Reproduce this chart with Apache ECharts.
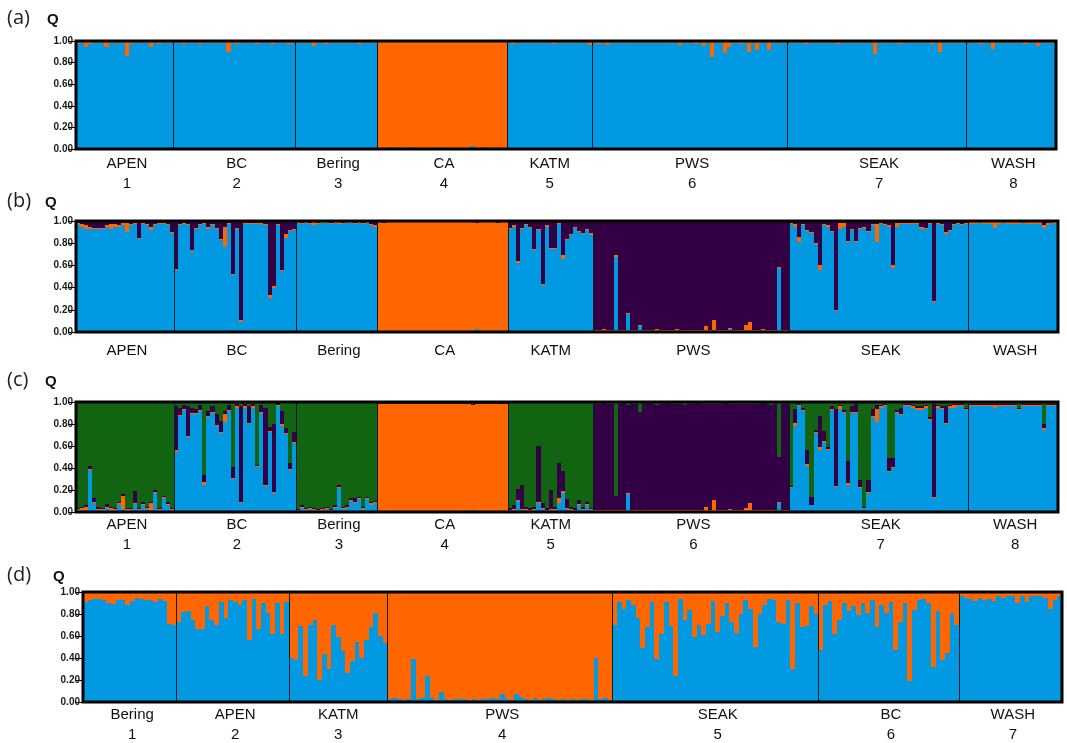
<!DOCTYPE html>
<html>
<head>
<meta charset="utf-8">
<script src="https://cdn.jsdelivr.net/npm/echarts@6/dist/echarts.min.js"></script>
<style>
html,body{margin:0;padding:0;background:#fff;}
#chart{width:1067px;height:743px;}
</style>
</head>
<body>
<div id="chart"></div>
<script>
// ---------------- DATA ----------------
// Population labels
const popsABC = ['APEN','BC','Bering','CA','KATM','PWS','SEAK','WASH'];
const numsABC = ['1','2','3','4','5','6','7','8'];
const popsD = ['Bering','APEN','KATM','PWS','SEAK','BC','WASH'];
const numsD = ['1','2','3','4','5','6','7'];
const yTicks = [0, 0.2, 0.4, 0.6, 0.8, 1.0];

// Panel (a): K=2, orange share per individual (blue = remainder)
const aOrange = [
  [0.03,0.02,0.06,0.03,0.02,0.02,0.02,0.06,0.02,0.02,0.02,0.02,0.14,0.03,0.02,0.02,0.02,0.02,0.06,0.02,0.03,0.02,0.02,0.02],
  [0.02,0.02,0.03,0.02,0.02,0.02,0.03,0.02,0.02,0.02,0.02,0.02,0.02,0.10,0.02,0.03,0.02,0.02,0.02,0.02,0.03,0.02,0.02,0.02,0.03,0.02,0.02,0.02,0.03,0.02],
  [0.02,0.02,0.02,0.02,0.05,0.02,0.02,0.03,0.02,0.02,0.02,0.02,0.02,0.02,0.02,0.03,0.02,0.02,0.02,0.02],
  [0.99,0.99,0.99,0.98,0.99,0.99,0.99,0.99,0.98,0.99,0.99,0.99,0.99,0.99,0.99,0.98,0.99,0.99,0.99,0.99,0.99,0.99,0.99,0.97,0.99,0.99,0.98,0.99,0.99,0.99,0.99,0.99],
  [0.02,0.03,0.02,0.02,0.02,0.02,0.02,0.02,0.02,0.02,0.02,0.03,0.02,0.02,0.02,0.02,0.02,0.02,0.02,0.02,0.04],
  [0.02,0.03,0.02,0.04,0.02,0.02,0.02,0.02,0.02,0.02,0.02,0.02,0.02,0.02,0.02,0.02,0.02,0.02,0.02,0.02,0.02,0.04,0.02,0.02,0.02,0.03,0.02,0.05,0.02,0.15,0.02,0.02,0.11,0.06,0.02,0.02,0.03,0.02,0.10,0.02,0.08,0.02,0.02,0.08,0.02,0.02,0.02,0.02],
  [0.02,0.02,0.02,0.02,0.03,0.02,0.02,0.02,0.02,0.02,0.02,0.02,0.03,0.02,0.02,0.02,0.02,0.02,0.02,0.02,0.02,0.12,0.02,0.02,0.02,0.02,0.02,0.03,0.02,0.02,0.02,0.02,0.02,0.02,0.02,0.03,0.02,0.10,0.02,0.02,0.02,0.02,0.02,0.02],
  [0.02,0.02,0.02,0.03,0.02,0.02,0.07,0.02,0.02,0.02,0.02,0.02,0.02,0.02,0.03,0.02,0.02,0.05,0.02,0.02,0.02,0.02]
];

// Panel (b): K=3, orange and purple shares (blue = remainder)
const bOrange = [
  [0.02,0.02,0.03,0.02,0.01,0.01,0.01,0.01,0.04,0.02,0.01,0.02,0.08,0.01,0.01,0.01,0.01,0.01,0.03,0.01,0.01,0.01,0.01,0.01],
  [0.01,0.01,0.01,0.01,0.01,0.01,0.01,0.01,0.02,0.01,0.01,0.01,0.18,0.01,0.01,0.01,0.02,0.01,0.01,0.01,0.01,0.01,0.01,0.02,0.01,0.01,0.01,0.03,0.01,0.01],
  [0.01,0.01,0.01,0.01,0.03,0.01,0.01,0.01,0.01,0.01,0.02,0.01,0.01,0.01,0.01,0.01,0.01,0.01,0.01,0.01],
  [0.98,0.97,0.98,0.98,0.98,0.98,0.98,0.98,0.98,0.98,0.98,0.98,0.98,0.98,0.98,0.98,0.98,0.98,0.98,0.98,0.98,0.98,0.98,0.98,0.95,0.98,0.98,0.98,0.98,0.97,0.98,0.98],
  [0.01,0.01,0.02,0.01,0.01,0.01,0.01,0.01,0.01,0.01,0.01,0.01,0.01,0.03,0.01,0.01,0.01,0.01,0.01,0.01,0.02],
  [0.01,0.01,0.02,0.01,0.01,0.01,0.01,0.01,0.01,0.01,0.01,0.01,0.01,0.01,0.01,0.02,0.01,0.01,0.01,0.01,0.02,0.01,0.01,0.01,0.01,0.01,0.01,0.04,0.01,0.09,0.01,0.01,0.01,0.01,0.01,0.01,0.01,0.05,0.08,0.01,0.01,0.02,0.01,0.01,0.01,0.01,0.01,0.01],
  [0.01,0.02,0.05,0.01,0.01,0.01,0.01,0.04,0.01,0.01,0.01,0.01,0.05,0.03,0.01,0.01,0.01,0.01,0.01,0.01,0.01,0.16,0.01,0.01,0.01,0.02,0.03,0.01,0.01,0.01,0.01,0.01,0.02,0.01,0.01,0.01,0.01,0.01,0.02,0.01,0.01,0.01,0.01,0.01],
  [0.02,0.02,0.01,0.02,0.02,0.02,0.05,0.02,0.01,0.02,0.02,0.02,0.02,0.01,0.02,0.02,0.02,0.02,0.02,0.02,0.01,0.02]
];
const bPurple = [
  [0.02,0.03,0.04,0.05,0.06,0.06,0.06,0.04,0.03,0.03,0.04,0.02,0.02,0.03,0.02,0.15,0.02,0.03,0.05,0.03,0.02,0.02,0.03,0.10],
  [0.43,0.03,0.02,0.03,0.26,0.06,0.03,0.02,0.05,0.03,0.06,0.16,0.05,0.02,0.48,0.06,0.89,0.02,0.02,0.02,0.02,0.02,0.03,0.67,0.59,0.03,0.44,0.12,0.08,0.07],
  [0.01,0.02,0.01,0.02,0.01,0.02,0.01,0.01,0.02,0.01,0.01,0.02,0.01,0.01,0.02,0.01,0.02,0.01,0.03,0.04],
  [0.01,0.02,0.01,0.01,0.01,0.01,0.01,0.01,0.01,0.01,0.01,0.01,0.01,0.01,0.01,0.01,0.01,0.01,0.01,0.01,0.01,0.01,0.01,0.01,0.02,0.01,0.01,0.01,0.01,0.02,0.01,0.01],
  [0.06,0.04,0.36,0.06,0.03,0.05,0.25,0.07,0.57,0.04,0.24,0.24,0.02,0.31,0.16,0.12,0.05,0.09,0.11,0.07,0.11],
  [0.98,0.98,0.97,0.98,0.98,0.31,0.98,0.98,0.83,0.98,0.98,0.94,0.98,0.98,0.98,0.97,0.98,0.98,0.98,0.98,0.97,0.98,0.98,0.98,0.98,0.98,0.98,0.95,0.98,0.89,0.98,0.98,0.98,0.96,0.98,0.98,0.98,0.94,0.91,0.98,0.98,0.97,0.98,0.98,0.98,0.41,0.98,0.98],
  [0.02,0.03,0.14,0.03,0.08,0.10,0.20,0.40,0.03,0.04,0.09,0.80,0.02,0.02,0.18,0.07,0.18,0.06,0.05,0.09,0.03,0.03,0.02,0.03,0.04,0.40,0.02,0.02,0.02,0.02,0.02,0.02,0.05,0.06,0.02,0.72,0.02,0.03,0.10,0.08,0.03,0.02,0.03,0.02],
  [0.01,0.01,0.01,0.01,0.01,0.01,0.01,0.01,0.01,0.01,0.01,0.01,0.01,0.01,0.01,0.01,0.01,0.01,0.04,0.02,0.01,0.01]
];

// Panel (c): K=4, blue, orange, purple shares (green = remainder)
const cBlue = [
  [0.02,0.02,0.02,0.38,0.08,0.02,0.02,0.04,0.02,0.02,0.07,0.03,0.02,0.02,0.07,0.02,0.06,0.03,0.02,0.17,0.02,0.13,0.06,0.02],
  [0.55,0.87,0.93,0.68,0.89,0.89,0.92,0.25,0.86,0.90,0.78,0.72,0.82,0.92,0.30,0.95,0.08,0.95,0.80,0.95,0.41,0.90,0.24,0.73,0.17,0.96,0.78,0.71,0.38,0.63],
  [0.01,0.04,0.02,0.03,0.02,0.01,0.02,0.03,0.01,0.04,0.22,0.03,0.04,0.10,0.08,0.12,0.03,0.12,0.06,0.08],
  [0.01,0.01,0.01,0.01,0.01,0.01,0.01,0.01,0.01,0.01,0.01,0.01,0.01,0.01,0.01,0.01,0.01,0.01,0.01,0.01,0.01,0.01,0.01,0.02,0.01,0.01,0.01,0.01,0.01,0.01,0.01,0.01],
  [0.01,0.02,0.10,0.02,0.02,0.01,0.02,0.08,0.03,0.01,0.02,0.02,0.08,0.17,0.03,0.02,0.01,0.06,0.02,0.06,0.02],
  [0.01,0.01,0.01,0.01,0.01,0.01,0.01,0.01,0.16,0.01,0.01,0.01,0.01,0.01,0.01,0.01,0.01,0.01,0.01,0.01,0.01,0.01,0.01,0.01,0.01,0.01,0.01,0.01,0.01,0.01,0.01,0.01,0.01,0.02,0.01,0.01,0.01,0.01,0.01,0.01,0.01,0.01,0.01,0.01,0.01,0.08,0.01,0.01],
  [0.22,0.78,0.96,0.92,0.42,0.06,0.72,0.56,0.64,0.56,0.93,0.23,0.94,0.90,0.25,0.90,0.90,0.22,0.04,0.17,0.86,0.82,0.95,0.96,0.36,0.40,0.90,0.88,0.96,0.96,0.95,0.93,0.93,0.95,0.84,0.13,0.95,0.94,0.80,0.95,0.95,0.96,0.96,0.93],
  [0.96,0.96,0.96,0.96,0.96,0.96,0.95,0.96,0.96,0.96,0.96,0.96,0.93,0.96,0.96,0.96,0.96,0.96,0.75,0.96,0.96,0.96]
];
const cOrange = [
  [0.01,0.02,0.03,0.01,0.01,0.01,0.01,0.01,0.02,0.01,0.01,0.12,0.01,0.01,0.01,0.01,0.01,0.01,0.06,0.01,0.01,0.01,0.01,0.01],
  [0.01,0.01,0.01,0.01,0.01,0.01,0.01,0.02,0.01,0.01,0.01,0.01,0.07,0.01,0.01,0.01,0.01,0.01,0.01,0.01,0.01,0.01,0.01,0.01,0.01,0.01,0.02,0.01,0.01,0.01],
  [0.01,0.01,0.01,0.01,0.01,0.01,0.01,0.01,0.01,0.01,0.01,0.01,0.01,0.01,0.01,0.01,0.01,0.01,0.02,0.01],
  [0.97,0.97,0.97,0.97,0.97,0.97,0.97,0.97,0.97,0.97,0.97,0.97,0.97,0.97,0.97,0.97,0.97,0.97,0.97,0.97,0.97,0.97,0.97,0.95,0.97,0.97,0.97,0.97,0.97,0.97,0.97,0.97],
  [0.01,0.01,0.01,0.01,0.01,0.01,0.01,0.01,0.01,0.01,0.01,0.01,0.05,0.02,0.01,0.01,0.01,0.01,0.01,0.01,0.01],
  [0.01,0.01,0.01,0.01,0.01,0.01,0.01,0.01,0.01,0.01,0.01,0.01,0.01,0.01,0.01,0.01,0.01,0.01,0.01,0.01,0.01,0.01,0.01,0.01,0.01,0.01,0.01,0.04,0.01,0.10,0.01,0.01,0.01,0.01,0.01,0.01,0.01,0.03,0.07,0.01,0.01,0.01,0.01,0.01,0.01,0.01,0.01,0.01],
  [0.01,0.03,0.01,0.01,0.02,0.00,0.01,0.03,0.01,0.01,0.01,0.01,0.02,0.01,0.01,0.01,0.01,0.01,0.00,0.01,0.01,0.12,0.01,0.01,0.01,0.01,0.01,0.01,0.01,0.01,0.01,0.02,0.02,0.01,0.01,0.01,0.01,0.01,0.01,0.01,0.02,0.01,0.01,0.01],
  [0.01,0.01,0.01,0.01,0.01,0.01,0.02,0.01,0.01,0.01,0.01,0.01,0.01,0.01,0.01,0.01,0.01,0.01,0.01,0.01,0.01,0.01]
];
const cPurple = [
  [0.01,0.01,0.01,0.03,0.04,0.02,0.01,0.02,0.01,0.01,0.01,0.01,0.01,0.01,0.11,0.01,0.02,0.01,0.01,0.02,0.01,0.01,0.02,0.01],
  [0.40,0.07,0.03,0.27,0.05,0.04,0.04,0.07,0.05,0.05,0.10,0.10,0.03,0.04,0.10,0.02,0.87,0.02,0.15,0.02,0.01,0.06,0.70,0.03,0.62,0.02,0.12,0.04,0.06,0.09],
  [0.01,0.01,0.01,0.01,0.01,0.01,0.01,0.01,0.01,0.01,0.02,0.01,0.01,0.02,0.04,0.01,0.01,0.01,0.01,0.01],
  [0.01,0.01,0.01,0.01,0.01,0.01,0.01,0.01,0.01,0.01,0.01,0.01,0.01,0.01,0.01,0.01,0.01,0.01,0.01,0.01,0.01,0.01,0.01,0.01,0.01,0.01,0.01,0.01,0.01,0.01,0.01,0.01],
  [0.02,0.03,0.10,0.22,0.02,0.02,0.02,0.51,0.04,0.02,0.17,0.02,0.32,0.18,0.08,0.02,0.02,0.04,0.02,0.02,0.01],
  [0.96,0.96,0.97,0.96,0.96,0.13,0.96,0.97,0.80,0.96,0.96,0.89,0.96,0.97,0.96,0.95,0.96,0.96,0.97,0.96,0.96,0.96,0.95,0.96,0.96,0.97,0.96,0.93,0.96,0.87,0.96,0.96,0.97,0.95,0.96,0.96,0.96,0.94,0.90,0.96,0.96,0.97,0.96,0.95,0.96,0.41,0.96,0.96],
  [0.01,0.13,0.01,0.02,0.12,0.08,0.02,0.28,0.09,0.02,0.02,0.70,0.01,0.02,0.20,0.05,0.07,0.06,0.01,0.11,0.07,0.03,0.01,0.01,0.12,0.08,0.02,0.06,0.01,0.01,0.01,0.01,0.01,0.01,0.01,0.84,0.01,0.01,0.15,0.01,0.01,0.01,0.01,0.01],
  [0.01,0.01,0.01,0.01,0.01,0.01,0.01,0.01,0.01,0.01,0.01,0.01,0.01,0.01,0.01,0.01,0.01,0.01,0.04,0.01,0.01,0.01]
];

// Panel (d): K=2 without CA, orange share (blue = remainder)
const dOrange = [
  [0.09,0.07,0.06,0.06,0.07,0.10,0.11,0.07,0.07,0.12,0.08,0.05,0.06,0.07,0.07,0.09,0.06,0.08,0.29,0.30],
  [0.27,0.18,0.17,0.25,0.34,0.34,0.13,0.25,0.30,0.09,0.24,0.07,0.09,0.12,0.07,0.44,0.06,0.34,0.10,0.19,0.38,0.10,0.38,0.09],
  [0.60,0.62,0.31,0.76,0.30,0.25,0.80,0.56,0.70,0.30,0.41,0.54,0.74,0.63,0.45,0.60,0.44,0.32,0.19,0.40,0.46],
  [0.97,0.96,0.97,0.98,0.97,0.61,0.97,0.96,0.76,0.96,0.98,0.91,0.97,0.98,0.97,0.97,0.97,0.98,0.97,0.98,0.97,0.97,0.96,0.97,0.93,0.97,0.98,0.93,0.95,0.97,0.98,0.96,0.98,0.97,0.96,0.97,0.98,0.97,0.98,0.97,0.98,0.97,0.97,0.98,0.60,0.97,0.96,0.98],
  [0.30,0.09,0.15,0.07,0.12,0.24,0.51,0.32,0.09,0.61,0.38,0.09,0.31,0.76,0.06,0.25,0.16,0.41,0.30,0.39,0.29,0.08,0.36,0.22,0.10,0.27,0.37,0.20,0.07,0.15,0.50,0.20,0.12,0.06,0.07,0.27,0.29,0.07,0.70,0.10,0.32,0.31,0.13,0.20],
  [0.53,0.12,0.08,0.38,0.25,0.10,0.17,0.13,0.21,0.10,0.19,0.07,0.32,0.12,0.19,0.09,0.53,0.27,0.10,0.81,0.16,0.07,0.06,0.10,0.68,0.17,0.62,0.55,0.19,0.30],
  [0.04,0.05,0.06,0.08,0.05,0.07,0.06,0.08,0.04,0.05,0.04,0.04,0.10,0.04,0.09,0.04,0.04,0.04,0.05,0.15,0.07,0.04]
];

// ---------------- STYLE / LAYOUT ----------------
const COLORS = { blue:'#0099e2', orange:'#ff6600', purple:'#330045', green:'#106412' };
const FONT = "'Liberation Sans', Arial, sans-serif";
const layout = [
  { tag:'(a)', grid:{left:76, top:41, width:980, height:108}, labelMargin:5, tagX:7, qX:47, tagY:21 },
  { tag:'(b)', grid:{left:76, top:221, width:982, height:111}, labelMargin:9, tagX:7, qX:45, tagY:204 },
  { tag:'(c)', grid:{left:76, top:402, width:982, height:110}, labelMargin:3, tagX:7, qX:45, tagY:383 },
  { tag:'(d)', grid:{left:83, top:592, width:979, height:110}, labelMargin:3, tagX:7, qX:53, tagY:578 }
];

function flat(n){ return [].concat(...n); }
function remainder(){
  const parts = Array.from(arguments).map(flat);
  return parts[0].map((_,i)=> Math.max(0, +(1 - parts.reduce((s,p)=>s+p[i],0)).toFixed(3)));
}

const panels = [
  { names: popsABC, nums: numsABC, ref: aOrange,
    layers: [ {c:'blue', v: remainder(aOrange)}, {c:'orange', v: flat(aOrange)} ] },
  { names: popsABC, nums: null, ref: bOrange,
    layers: [ {c:'blue', v: remainder(bOrange,bPurple)}, {c:'orange', v: flat(bOrange)}, {c:'purple', v: flat(bPurple)} ] },
  { names: popsABC, nums: numsABC, ref: cBlue,
    layers: [ {c:'blue', v: flat(cBlue)}, {c:'orange', v: flat(cOrange)}, {c:'purple', v: flat(cPurple)}, {c:'green', v: remainder(cBlue,cOrange,cPurple)} ] },
  { names: popsD, nums: numsD, ref: dOrange,
    layers: [ {c:'blue', v: remainder(dOrange)}, {c:'orange', v: flat(dOrange)} ] }
];

const grids=[], xAxes=[], yAxes=[], series=[], graphics=[];
panels.forEach((p, gi) => {
  const L = layout[gi];
  const cats=[], starts=new Set(), mids=new Set();
  let k=0;
  p.ref.forEach((arr, pi) => {
    starts.add(k);
    mids.add(k + Math.floor(arr.length/2));
    arr.forEach((_, i) => cats.push(pi + '|' + i));
    k += arr.length;
  });
  grids.push(Object.assign({ containLabel:false, outerBoundsMode:'none' }, L.grid));
  xAxes.push({
    type:'category', gridIndex: gi, data: cats, z: 5,
    boundaryGap: true,
    axisLine:{show:false}, axisTick:{show:false},
    splitLine:{ show:true, interval:(i)=> starts.has(i) && i>0, lineStyle:{color:'#0c1a26', width:1} },
    axisLabel:{
      interval:(i)=> mids.has(i), margin: L.labelMargin,
      fontFamily: FONT, fontSize: 15, lineHeight: 20, color:'#111',
      formatter:(v)=>{ const pi = +v.split('|')[0]; return p.names[pi] + (p.nums ? '\n' + p.nums[pi] : ''); }
    }
  });
  yAxes.push({
    type:'value', gridIndex: gi, min: yTicks[0], max: yTicks[yTicks.length-1], interval: 0.2,
    axisLine:{show:false}, splitLine:{show:false},
    axisTick:{show:true, length:8, lineStyle:{color:'#000', width:1}},
    axisLabel:{ margin:3, fontFamily: FONT, fontSize:10, fontWeight:'bold', color:'#1a1a1a', formatter:(v)=> v.toFixed(2) }
  });
  // one row per individual: [index, q_layer0, q_layer1, ...]
  const rows = cats.map((_, i) => [i].concat(p.layers.map(l => l.v[i])));
  const colors = p.layers.map(l => COLORS[l.c]);
  series.push({
    type:'custom', xAxisIndex: gi, yAxisIndex: gi, data: rows, silent:true, z:2,
    encode:{ x:0, y:1 },
    renderItem:(params, api) => {
      const idx = api.value(0);
      const w = api.size([1, 0])[0];
      const cx = api.coord([idx, 0])[0];
      const x0 = Math.round(cx - w/2), x1 = Math.round(cx + w/2);
      const children = [];
      let cum = 0;
      colors.forEach((col, li) => {
        const v = api.value(li + 1);
        const yb = Math.round(api.coord([idx, cum])[1]);
        cum += v;
        const yt = Math.round(api.coord([idx, Math.min(1, cum)])[1]);
        if (yb - yt > 0) children.push({ type:'rect', shape:{x:x0, y:yt, width:x1-x0, height:yb-yt}, style:{fill:col} });
      });
      return { type:'group', children };
    }
  });
  const g = L.grid;
  graphics.push({ type:'rect', z:100, silent:true,
    shape:{ x:g.left, y:g.top, width:g.width, height:g.height },
    style:{ fill:'none', stroke:'#000', lineWidth:3 } });
  graphics.push({ type:'text', z:100, left:L.tagX, top:L.tagY-13,
    style:{ text:L.tag, font:"20px 'Open Sans', 'DejaVu Sans', sans-serif", fill:'#222' } });
  graphics.push({ type:'text', z:100, left:L.qX, top:L.tagY-9,
    style:{ text:'Q', font:"bold 15px " + FONT, fill:'#111' } });
});

const chart = echarts.init(document.getElementById('chart'), null, {renderer:'canvas'});
chart.setOption({
  animation:false,
  backgroundColor:'#fff',
  grid: grids, xAxis: xAxes, yAxis: yAxes, series: series, graphic: graphics
});
</script>
</body>
</html>
